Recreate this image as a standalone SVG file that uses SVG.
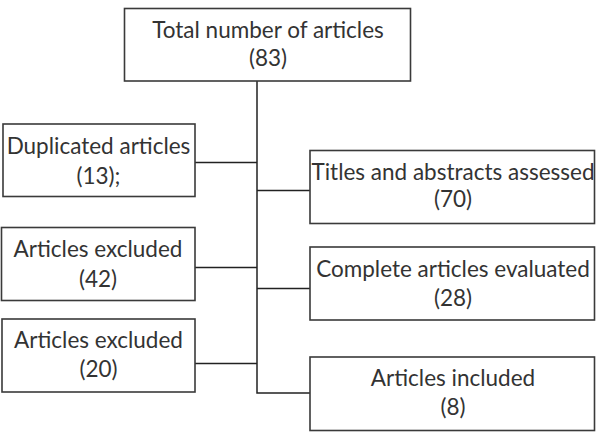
<svg xmlns="http://www.w3.org/2000/svg" width="596" height="445" viewBox="0 0 596 445">
<style>
.box{fill:#fff;stroke:#3a3a3a;stroke-width:1.6}
.t{font-family:Lato,"Open Sans",sans-serif;font-size:22.5px;fill:#333;text-anchor:middle}
.c{fill:none;stroke:#222;stroke-width:1.5}
</style>
<rect width="596" height="445" fill="#fff"/>
<g id="connectors">
<path class="c" d="M257,81 V393 H310"/>
<path class="c" d="M195,162.5 H257"/>
<path class="c" d="M257,190.5 H310"/>
<path class="c" d="M195,267.5 H257"/>
<path class="c" d="M257,288.5 H310"/>
<path class="c" d="M195,363.5 H257"/>
</g>
<g id="total">
<rect class="box" x="124.5" y="8.5" width="286" height="72.5"/>
<text class="t" x="268" y="37.5">Total number of articles</text>
<text class="t" x="268" y="65.5">(83)</text>
</g>
<g id="duplicated">
<rect class="box" x="3" y="124" width="192" height="72.5"/>
<text class="t" x="98.5" y="153.5">Duplicated articles</text>
<text class="t" x="98.5" y="183.5">(13);</text>
</g>
<g id="titles">
<rect class="box" x="310" y="150.5" width="284.5" height="73"/>
<text class="t" x="453" y="180">Titles and abstracts assessed</text>
<text class="t" x="453" y="207">(70)</text>
</g>
<g id="excluded42">
<rect class="box" x="1.5" y="227.5" width="193.5" height="73"/>
<text class="t" x="98" y="256.5">Articles excluded</text>
<text class="t" x="98" y="286.5">(42)</text>
</g>
<g id="complete">
<rect class="box" x="310" y="247" width="284.5" height="73"/>
<text class="t" x="453" y="277">Complete articles evaluated</text>
<text class="t" x="453" y="306">(28)</text>
</g>
<g id="excluded20">
<rect class="box" x="2" y="319" width="193" height="73"/>
<text class="t" x="98.5" y="348">Articles excluded</text>
<text class="t" x="98.5" y="377">(20)</text>
</g>
<g id="included">
<rect class="box" x="310" y="357" width="284.5" height="73.5"/>
<text class="t" x="453" y="386">Articles included</text>
<text class="t" x="453" y="415">(8)</text>
</g>
</svg>
